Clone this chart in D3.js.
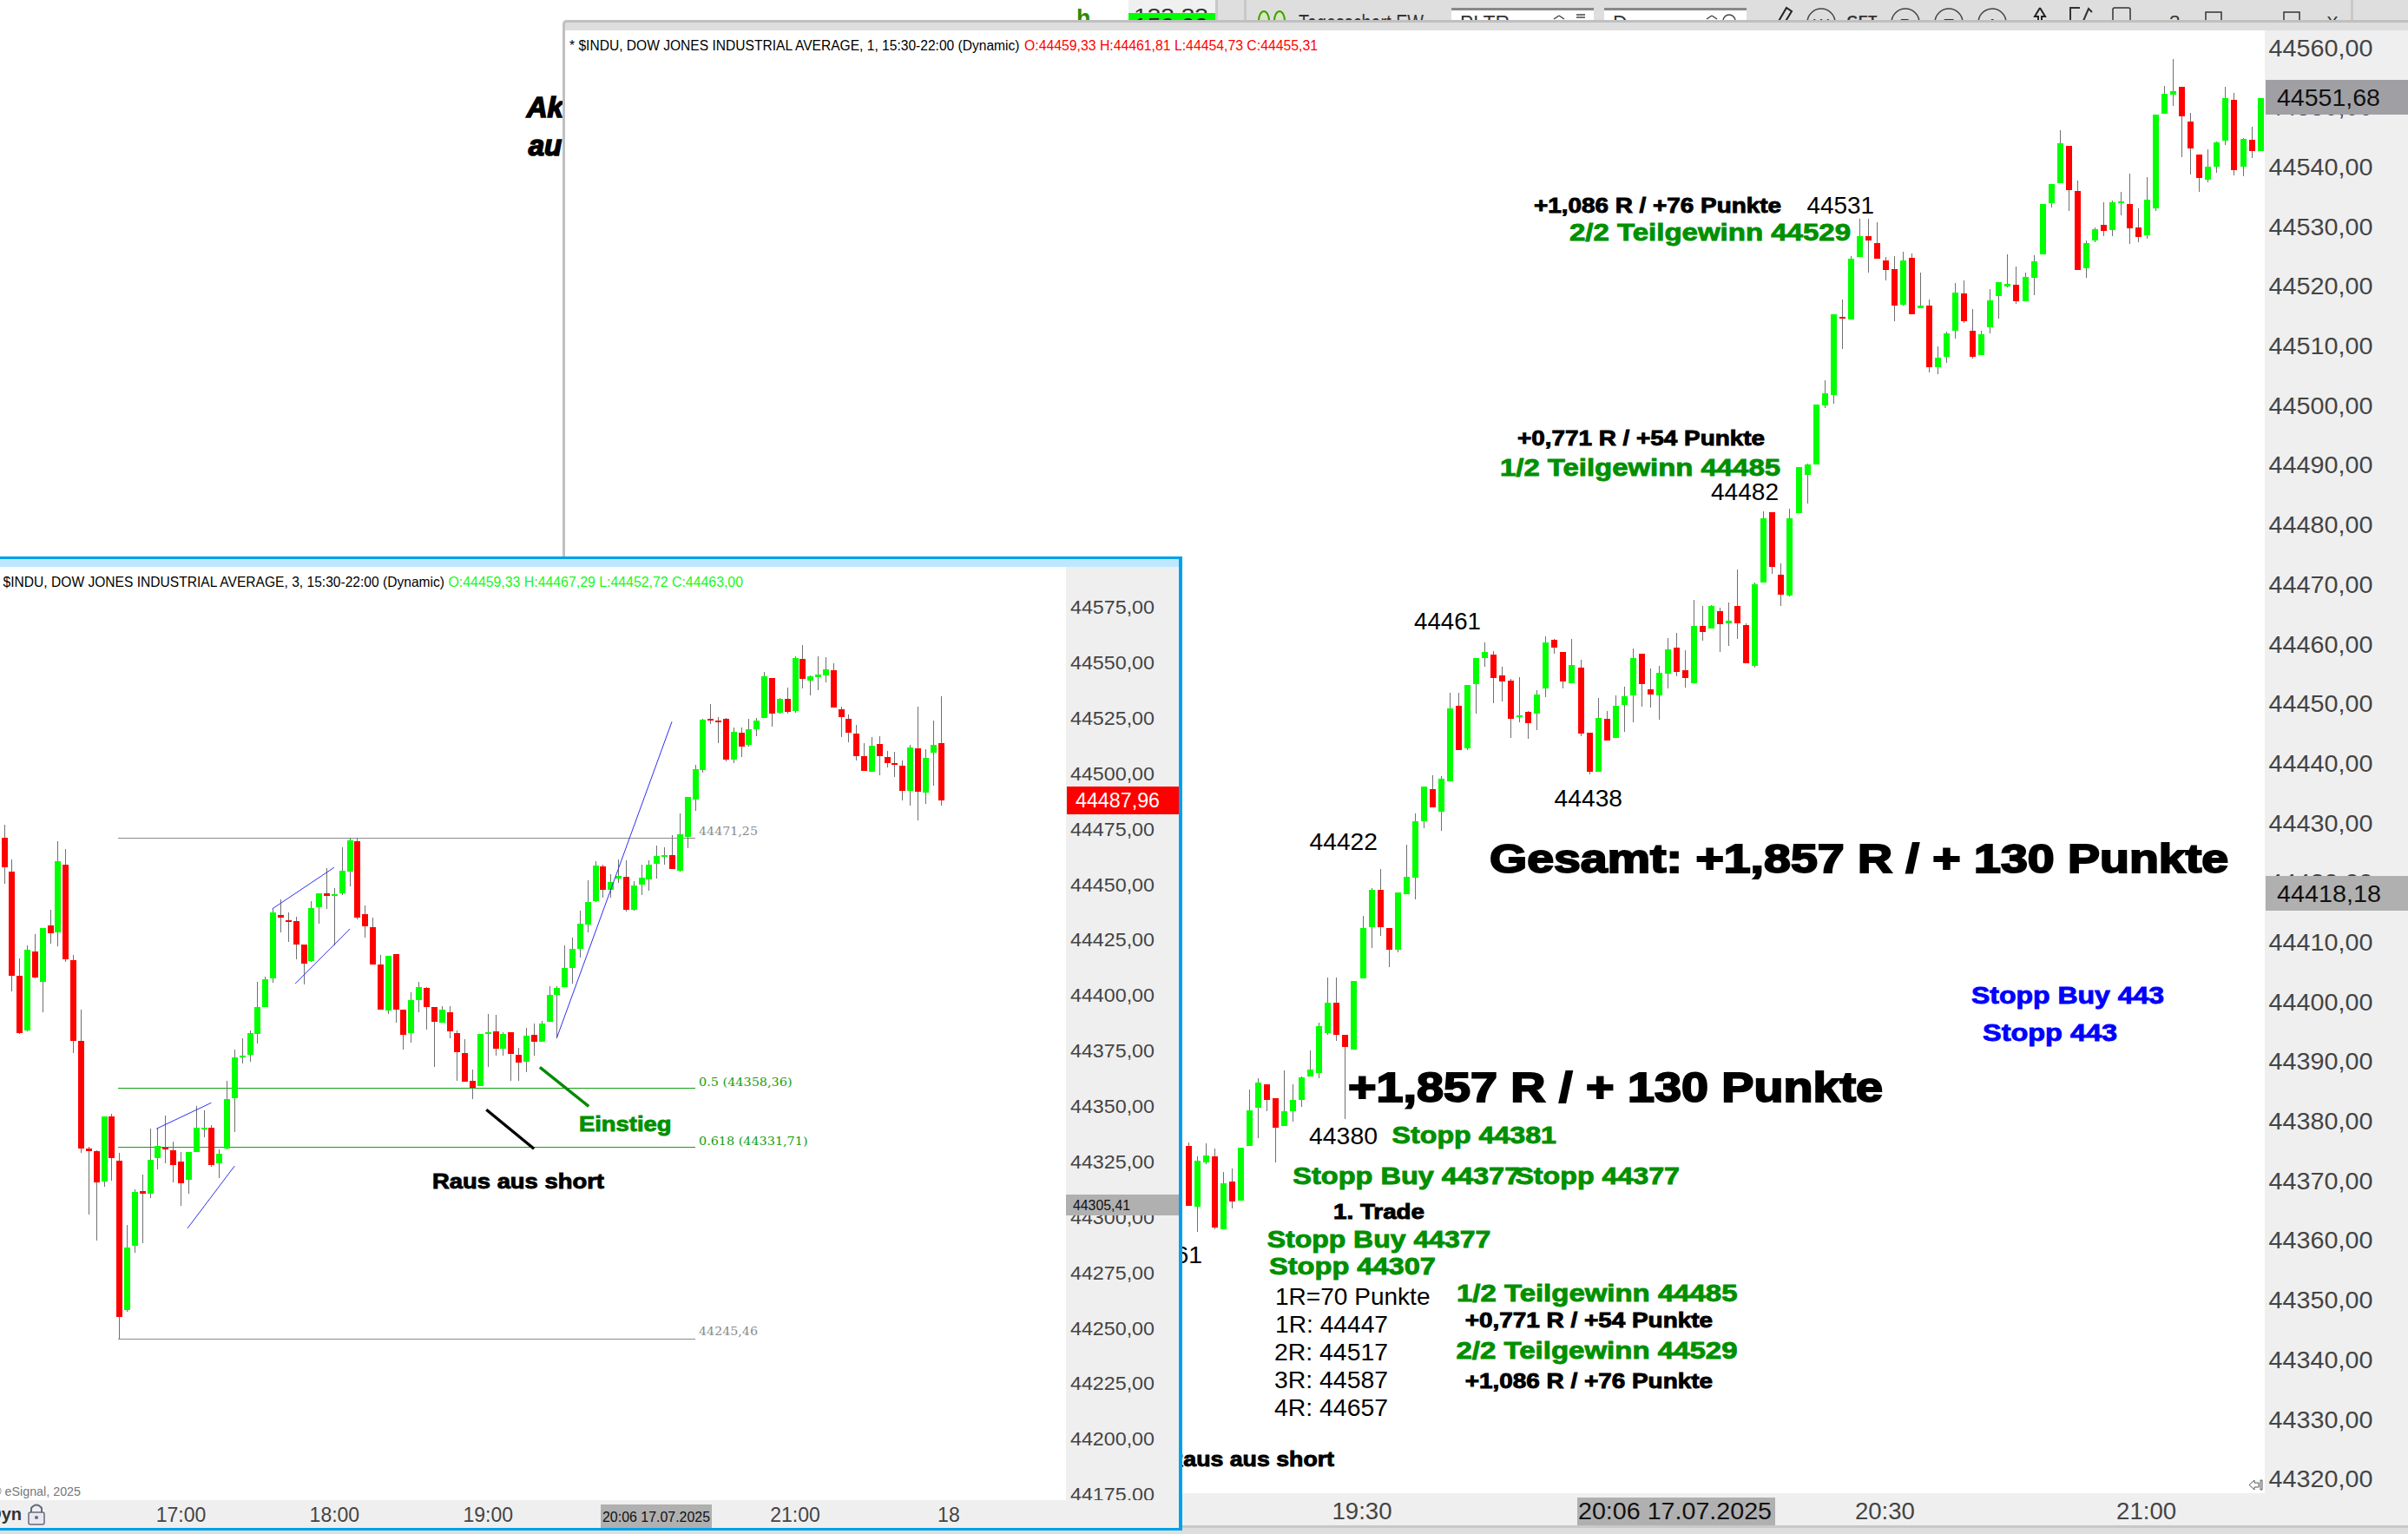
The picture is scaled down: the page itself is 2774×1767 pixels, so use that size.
<!DOCTYPE html>
<html><head><meta charset="utf-8">
<style>html,body{margin:0;padding:0;background:#fff;overflow:hidden}svg{display:block}</style>
<script src="https://cdn.jsdelivr.net/npm/d3@7/dist/d3.min.js"></script>
</head><body><div id="c"></div>
<script>
// ---------- data: times are minutes of the day, prices are index points ----------
const mainFirstBarMinute = 1150; // 19:10, 1-minute bars
const mainOHLC = [
[44375.9,44376.5,44365.9,44365.9],[44365.7,44374.2,44361.5,44373.4],[44373.1,44376.4,44372.9,44374.3],[44374.2,44375.5,44361.9,44362.2],[44361.9,44371.6,44361.9,44369.6],[44369.9,44372.2,44365.5,44366.6],[44366.7,44375.6,44366.7,44375.6],[44375.9,44385.4,44375.9,44381.9],[44382.3,44387.2,44377.2,44386.6],[44386.2,44386.2,44381.7,44383.7],
[44383.9,44383.9,44373.1,44379.0],[44379.3,44388.6,44379.3,44381.7],[44381.7,44386.2,44380.0,44383.6],[44383.7,44387.6,44382.4,44387.4],[44387.5,44391.9,44387.5,44388.7],[44388.2,44396.6,44387.2,44396.0],[44394.8,44404.1,44394.5,44400.0],[44400.0,44404.2,44393.5,44394.5],[44394.5,44394.5,44380.4,44392.5],[44392.1,44403.6,44392.1,44403.6],
[44404.0,44414.5,44404.0,44412.4],[44412.6,44419.1,44409.1,44418.9],[44418.9,44422.4,44411.1,44412.6],[44412.4,44412.4,44405.9,44408.8],[44408.8,44418.4,44408.4,44418.4],[44418.2,44426.4,44418.2,44421.0],[44420.9,44431.7,44417.3,44430.3],[44430.3,44436.2,44429.2,44436.2],[44435.8,44438.1,44432.7,44432.7],[44432.0,44437.9,44428.7,44437.5],
[44437.1,44451.9,44437.1,44449.3],[44449.7,44451.9,44442.3,44442.3],[44442.6,44453.2,44442.3,44453.2],[44453.4,44457.8,44448.4,44457.8],[44457.7,44460.4,44456.3,44458.7],[44458.3,44458.9,44450.1,44454.4],[44454.8,44456.3,44450.4,44453.8],[44453.9,44454.2,44444.4,44447.6],[44447.9,44454.5,44447.0,44448.1],[44448.7,44448.8,44444.2,44446.8],
[44448.4,44452.4,44445.7,44451.6],[44452.6,44461.3,44451.2,44460.4],[44460.8,44461.0,44458.5,44459.5],[44458.7,44458.7,44452.6,44453.8],[44453.5,44461.0,44453.5,44456.5],[44456.1,44457.5,44444.7,44445.0],[44445.2,44445.2,44438.2,44438.6],[44438.6,44451.0,44438.6,44447.7],[44447.6,44448.8,44443.9,44443.9],[44444.4,44451.4,44444.4,44449.7],
[44449.9,44452.9,44445.4,44451.3],[44451.5,44459.4,44447.0,44457.7],[44458.4,44458.4,44449.6,44453.4],[44452.5,44456.0,44449.4,44451.6],[44451.5,44456.4,44447.4,44455.2],[44455.1,44461.1,44452.6,44459.2],[44459.5,44462.0,44454.7,44455.4],[44455.7,44459.1,44452.8,44454.4],[44453.5,44467.5,44453.5,44463.1],[44463.1,44466.5,44460.6,44462.1],
[44462.7,44466.6,44462.7,44466.5],[44465.6,44466.2,44458.7,44463.4],[44463.5,44467.1,44459.8,44464.0],[44466.5,44472.6,44460.9,44463.5],[44463.2,44463.5,44456.8,44456.8],[44456.4,44470.4,44456.2,44470.1],[44470.4,44482.3,44470.4,44481.2],[44482.2,44482.2,44471.8,44473.0],[44471.7,44473.6,44466.5,44468.4],[44468.2,44482.7,44468.1,44481.2],
[44482.0,44489.8,44482.0,44489.8],[44488.4,44490.4,44483.7,44490.2],[44490.2,44500.2,44490.2,44500.2],[44500.1,44504.3,44499.6,44502.1],[44501.8,44515.4,44500.4,44515.4],[44514.9,44517.9,44509.5,44514.6],[44514.5,44525.1,44514.5,44524.7],[44525.0,44531.4,44525.0,44528.5],[44528.5,44531.4,44522.3,44527.8],[44527.3,44530.8,44524.7,44524.7],
[44524.4,44525.0,44521.1,44522.8],[44523.0,44525.1,44514.2,44516.8],[44517.0,44525.9,44516.8,44524.4],[44524.9,44525.6,44515.4,44515.4],[44516.4,44522.3,44516.4,44516.8],[44516.8,44517.9,44505.6,44506.5],[44506.5,44510.0,44505.3,44508.1],[44508.3,44512.5,44507.2,44512.2],[44512.6,44520.6,44511.3,44519.0],[44518.9,44521.1,44513.9,44514.2],
[44512.6,44516.2,44507.9,44508.3],[44508.6,44512.6,44508.6,44512.0],[44513.2,44519.6,44512.2,44517.7],[44518.4,44520.8,44514.6,44520.7],[44520.1,44525.4,44519.9,44520.5],[44520.3,44523.4,44517.2,44517.5],[44517.5,44522.4,44517.5,44521.6],[44521.5,44525.3,44518.6,44524.3],[44525.4,44533.9,44525.4,44533.9],[44534.0,44537.2,44533.3,44537.2],
[44537.4,44546.2,44537.4,44544.1],[44543.6,44543.6,44532.7,44536.2],[44536.1,44537.8,44522.8,44522.8],[44523.1,44527.8,44521.5,44527.3],[44527.8,44529.9,44527.4,44529.7],[44530.4,44534.2,44528.5,44529.4],[44529.5,44534.4,44528.5,44534.2],[44534.0,44535.9,44532.0,44534.3],[44533.8,44539.0,44527.2,44529.8],[44529.9,44533.1,44527.5,44528.3],
[44528.6,44538.4,44528.1,44534.6],[44533.1,44548.9,44532.7,44548.9],[44549.0,44553.6,44549.0,44552.4],[44552.2,44558.2,44550.3,44552.8],[44553.5,44553.5,44541.7,44548.6],[44547.7,44549.1,44538.8,44543.2],[44542.2,44542.2,44535.9,44538.3],[44537.9,44543.1,44537.5,44540.2],[44540.2,44544.3,44539.1,44544.2],[44544.5,44553.5,44543.8,44551.6],
[44551.3,44552.5,44538.7,44539.5],[44540.1,44545.0,44538.6,44544.8],[44544.6,44546.8,44541.6,44542.8],[44542.8,44551.7,44542.8,44551.68]
];
const insetFirstBarMinute = 951; // 15:51, 3-minute bars
const insetOHLC = [
[44471.1,44476.8,44450.5,44457.9],[44455.9,44461.3,44401.9,44408.9],[44408.9,44416.8,44382.6,44383.1],[44384.2,44422.6,44383.7,44420.6],[44419.9,44427.5,44407.6,44408.0],[44406.2,44430.5,44392.3,44430.5],[44431.6,44438.6,44423.5,44428.0],[44428.5,44469.6,44422.2,44460.6],[44459.0,44466.0,44415.2,44416.3],[44415.9,44418.1,44374.1,44379.5],
[44379.5,44393.6,44328.9,44330.9],[44330.9,44331.8,44301.1,44329.8],[44329.8,44330.0,44289.4,44315.7],[44316.1,44345.5,44313.6,44345.5],[44345.5,44346.7,44316.6,44326.7],[44325.5,44328.9,44245.46,44255.0],[44258.2,44296.6,44257.5,44286.2],[44287.1,44312.7,44284.2,44311.4],[44311.9,44319.3,44288.3,44310.5],[44310.5,44339.9,44308.7,44325.8],
[44326.7,44340.4,44321.5,44332.1],[44331.4,44345.8,44324.2,44330.5],[44330.3,44334.1,44315.7,44323.5],[44325.1,44329.6,44305.3,44315.2],[44316.8,44329.6,44310.5,44329.4],[44329.4,44350.3,44329.4,44340.4],[44339.5,44348.2,44335.9,44340.4],[44340.4,44341.5,44322.6,44323.5],[44324.2,44330.5,44317.5,44328.7],[44330.9,44361.7,44330.5,44353.2],
[44353.6,44375.4,44338.4,44372.1],[44372.1,44380.8,44369.4,44373.0],[44373.2,44384.4,44370.0,44383.1],[44382.6,44406.2,44378.4,44394.8],[44394.8,44408.5,44394.8,44407.3],[44407.8,44439.0,44405.8,44437.4],[44436.3,44443.3,44428.5,44435.2],[44433.8,44437.4,44424.2,44433.2],[44433.6,44435.6,44416.3,44422.8],[44422.8,44422.8,44405.1,44414.3],
[44415.4,44442.6,44415.0,44439.5],[44439.7,44446.0,44432.3,44446.0],[44446.0,44457.2,44439.0,44444.9],[44444.9,44448.5,44422.6,44445.8],[44446.0,44466.9,44445.1,44456.3],[44455.9,44471.25,44449.1,44470.0],[44469.6,44471.25,44434.3,44435.0],[44436.5,44440.6,44426.0,44431.1],[44430.7,44435.0,44413.9,44413.9],[44413.9,44418.1,44393.6,44393.6],
[44393.2,44417.9,44391.8,44417.9],[44418.6,44418.6,44387.8,44393.6],[44393.6,44393.6,44375.7,44382.2],[44383.1,44401.5,44378.8,44397.9],[44397.9,44406.2,44392.5,44403.7],[44403.3,44403.7,44384.6,44394.8],[44394.8,44394.8,44367.8,44388.0],[44387.6,44395.2,44387.6,44393.6],[44392.5,44395.0,44380.8,44383.7],[44383.1,44384.4,44361.5,44374.3],
[44374.1,44380.4,44361.1,44361.1],[44361.5,44366.7,44353.4,44358.4],[44359.3,44382.6,44359.3,44382.6],[44382.6,44391.6,44367.8,44383.5],[44383.7,44391.2,44373.0,44375.9],[44375.9,44383.5,44373.0,44382.6],[44383.5,44383.5,44361.5,44373.6],[44373.2,44376.3,44361.5,44369.8],[44370.0,44385.5,44365.5,44381.7],[44382.2,44387.3,44372.7,44379.0],
[44379.0,44388.7,44379.0,44387.3],[44388.0,44404.0,44388.0,44400.1],[44400.1,44404.2,44380.8,44403.3],[44403.7,44422.4,44403.7,44412.3],[44412.3,44426.0,44405.5,44421.0],[44421.0,44438.1,44417.2,44432.5],[44432.0,44451.8,44428.5,44442.2],[44442.6,44460.6,44442.2,44458.6],[44458.1,44459.0,44444.2,44447.5],[44447.6,44454.6,44444.1,44451.2],
[44452.8,44461.4,44450.8,44453.9],[44453.5,44460.9,44437.8,44438.7],[44438.7,44451.5,44438.4,44449.4],[44449.9,44459.1,44445.2,44453.0],[44452.4,44460.9,44447.2,44458.9],[44459.3,44467.6,44452.6,44462.9],[44462.5,44466.7,44458.9,44463.2],[44463.2,44472.4,44456.9,44456.9],[44456.4,44482.0,44456.0,44472.6],[44471.5,44489.4,44466.5,44489.4],
[44488.3,44504.0,44483.4,44502.0],[44501.6,44524.9,44500.4,44524.3],[44524.7,44531.4,44522.5,44524.0],[44524.0,44525.4,44513.7,44523.1],[44524.7,44525.2,44505.4,44506.3],[44506.3,44520.7,44504.7,44518.9],[44518.4,44520.7,44507.4,44512.1],[44513.0,44524.9,44512.1,44520.0],[44520.2,44525.2,44516.9,44524.0],[44525.2,44545.8,44525.2,44543.8],
[44543.1,44543.1,44521.3,44527.0],[44527.4,44534.1,44527.0,44533.7],[44533.7,44538.9,44527.0,44527.9],[44528.3,44552.8,44527.6,44552.1],[44551.7,44558.0,44538.4,44542.7],[44542.0,44544.3,44535.3,44543.8],[44543.6,44553.0,44537.7,44544.5],[44544.3,44552.6,44541.1,44547.0],[44546.7,44549.9,44529.9,44529.9],[44529.0,44530.3,44516.4,44525.6],
[44524.9,44526.7,44514.2,44518.4],[44518.0,44521.8,44505.8,44507.9],[44507.9,44513.7,44501.1,44501.1],[44500.9,44516.4,44500.7,44512.6],[44513.3,44516.9,44499.3,44507.9],[44507.4,44510.3,44502.9,44504.7],[44504.7,44509.7,44498.4,44504.0],[44503.6,44506.1,44487.9,44492.1],[44492.1,44512.8,44485.6,44511.9],[44511.5,44530.1,44478.9,44491.7],
[44491.5,44511.0,44486.3,44507.2],[44509.4,44524.0,44494.6,44513.0],[44513.7,44534.8,44485.6,44487.96]
];
const mainPriceTicks = [44320,44330,44340,44350,44360,44370,44380,44390,44400,44410,44420,44430,44440,44450,44460,44470,44480,44490,44500,44510,44520,44530,44540,44550,44560];
const insetPriceTicks = [44175,44200,44225,44250,44275,44300,44325,44350,44375,44400,44425,44450,44475,44500,44525,44550,44575];
const mainTimeTicks = [1170,1200,1230,1260];
const mainTimeLabels = ["19:30","20:00","20:30","21:00"];
const insetTimeTicks = [1020,1080,1140,1200,1260,1320];
const insetTimeLabels = ["17:00","18:00","19:00","20:00","21:00","18"];
const insetLevels = [44471.25,44358.36,44331.71,44245.46];
const insetLevelLabels = ["44471,25","0.5 (44358,36)","0.618 (44331,71)","44245,46"];
const insetTrendLines = [[1010.6,44339.9,1032.0,44351.6],[1022.7,44295.0,1041.1,44323.1],[1055.8,44439.0,1080,44457.7],[1064.8,44405.3,1086.2,44430.0],[1167,44380.8,1212,44523.4]];
const insetPointers = [[1160.4,44367.6,1179.5,44350.0],[1139.5,44348.5,1158.1,44330.9]];
const mainLastPrice = 44551.68, mainCrossPrice = 44418.18, insetLastPrice = 44487.96, insetCrossPrice = 44305.41;

// ---------- layout ----------
const W=2774,H=1767, SANS='"Liberation Sans",Arial,sans-serif', GREEN='#009000', UP='#00ff00', DOWN='#ff0000', AX='#444444';
const svg=d3.select('#c').append('svg').attr('width',W).attr('height',H).attr('viewBox',`0 0 ${W} ${H}`);
const xMain=d3.scaleLinear().domain([1150,1273]).range([1368.75,2603.6]);
const yMain=d3.scaleLinear().domain([44560,44320]).range([55.5,1704.1]);
const xInset=d3.scaleLinear().domain([1020,1320]).range([208,1092.4]);
const yInset=d3.scaleLinear().domain([44471.25,44245.46]).range([964.6,1541.5]);
const fmt=d=>d3.format('.2f')(d).replace('.',',');

function rect(g,x,y,w,h,fill){return g.append('rect').attr('x',x).attr('y',y).attr('width',w).attr('height',h).attr('fill',fill).attr('shape-rendering','crispEdges');}
function txt(g,s,x,y,size,o={}){
  const t=g.append('text').attr('x',x).attr('y',y).attr('font-family',o.font||SANS).attr('font-size',size)
    .attr('font-weight',o.bold?'bold':'normal').attr('fill',o.fill||'#000').text(s);
  if(o.italic)t.attr('font-style','italic');
  if(o.w)t.attr('textLength',o.w).attr('lengthAdjust','spacingAndGlyphs');
  if(o.stroke)t.attr('stroke',o.fill||'#000').attr('stroke-width',o.stroke);
  if(o.anchor)t.attr('text-anchor',o.anchor);
  return t;
}
function candles(g,rows,first,step,x,y){
  const sel=g.selectAll('g.c').data(rows).join('g').attr('class','c').attr('shape-rendering','crispEdges');
  sel.append('line').attr('x1',(d,i)=>Math.round(x(first+i*step))+.5).attr('x2',(d,i)=>Math.round(x(first+i*step))+.5)
    .attr('y1',d=>y(d[1])).attr('y2',d=>y(d[2])).attr('stroke','#707070').attr('stroke-width',1);
  sel.append('rect').attr('x',(d,i)=>Math.round(x(first+i*step))-3).attr('width',7)
    .attr('y',d=>y(Math.max(d[0],d[3]))).attr('height',d=>Math.max(2,Math.abs(y(d[0])-y(d[3]))))
    .attr('fill',d=>d[3]>=d[0]?UP:DOWN);
}
function axisStyle(g,size,len){
  g.select('.domain').remove();
  g.selectAll('.tick line').remove();
  g.selectAll('text').attr('font-family',SANS).attr('font-size',size).attr('fill',AX);
  if(len)g.selectAll('text').attr('textLength',len).attr('lengthAdjust','spacingAndGlyphs');
}

// ---------- page behind the windows ----------
const back=svg.append('g');
txt(back,'Ak',606.7,135,33,{bold:true,italic:true,stroke:1.6});
txt(back,'au',608.7,179.3,33,{bold:true,italic:true,stroke:1.6});
txt(back,'h',1240,30,27,{bold:true,fill:'#2e8b00'});
rect(back,1300,0,100,24,'#f0f0f0');
txt(back,'133,33',1306,27,23,{fill:'#333',w:86});
rect(back,1300,15,100,9,'#00ff00');
txt(back,'150,00',1306,38,23,{fill:'#222',w:86});
rect(back,1400,0,1374,24,'#dedede');
rect(back,1400,0,3,24,'#c8c8c8');rect(back,1433,0,3,24,'#c8c8c8');rect(back,2708,0,3,24,'#c8c8c8');
[1456,1474].forEach(cx=>back.append('ellipse').attr('cx',cx).attr('cy',24).attr('rx',6).attr('ry',11).attr('fill','#d8e8c0').attr('stroke','#3fa000').attr('stroke-width',2));
txt(back,'Tagesschart EW',1496,35,25,{fill:'#333',w:144});
rect(back,1672,9,164,15,'#fff');rect(back,1672,9,164,3,'#888');
rect(back,1848,9,164,15,'#fff');rect(back,1848,9,164,3,'#888');
txt(back,'PLTR',1682,35,23,{fill:'#333'});txt(back,'D',1858,35,23,{fill:'#333'});
back.append('path').attr('d','M1790 22 L1796 18 M1802 22 L1796 18 M1966 22 L1972 18 M1978 22 L1972 18 M1816 17 L1826 17 M1816 20 L1826 20').attr('stroke','#444').attr('stroke-width',1.5);
back.append('circle').attr('cx',1992).attr('cy',24).attr('r',7).attr('fill','none').attr('stroke','#444').attr('stroke-width',1.5);
[[2098,'W'],[2195,'R'],[2245,'T'],[2295,'A']].forEach(a=>{
  back.append('circle').attr('cx',a[0]).attr('cy',26).attr('r',16).attr('fill','none').attr('stroke','#444').attr('stroke-width',1.5);
  txt(back,a[1],a[0],35,19,{fill:'#333',anchor:'middle'});
});
txt(back,'GET',2145,30,17,{fill:'#333',anchor:'middle',bold:true});
back.append('path').attr('d','M2048 26 L2058 9 L2064 13 L2056 26').attr('fill','none').attr('stroke','#222').attr('stroke-width',2);
back.append('path').attr('d','M2350 9 L2356 19 L2352 19 L2352 24 M2350 9 L2344 19 L2348 19 L2348 24').attr('fill','none').attr('stroke','#222').attr('stroke-width',2);
back.append('path').attr('d','M2385 24 L2385 9 L2396 9 M2400 24 L2406 10 L2410 14').attr('fill','none').attr('stroke','#333').attr('stroke-width',2);
back.append('path').attr('d','M2434 24 L2434 11 Q2434 9 2436 9 L2452 9 Q2454 9 2454 11 L2454 24').attr('fill','none').attr('stroke','#333').attr('stroke-width',1.5);
txt(back,'?',2505,32,21,{fill:'#333',anchor:'middle'});
[2550,2640].forEach(x=>{back.append('rect').attr('x',x-9).attr('y',14).attr('width',18).attr('height',16).attr('fill','none').attr('stroke','#333').attr('stroke-width',1.5);});
txt(back,'X',2687,33,20,{fill:'#333',anchor:'middle'});

// ---------- main window ----------
const win=svg.append('g');
rect(win,651,35,W-651,H-35,'#fff');
rect(win,651,26,W-651,9,'#dedede');
win.append('path').attr('d',`M649.5 ${H} L649.5 28 Q649.5 24.5 653 24.5 L${W} 24.5`).attr('fill','none').attr('stroke','#c0c0c0').attr('stroke-width',3);
rect(win,2609,35,W-2609,1685,'#efefef');
rect(win,651,1720,W-651,37,'#efefef');
rect(win,651,1757,W-651,3,'#c8c8c8');
rect(win,651,1760,W-651,7,'#dedede');
txt(win,'* $INDU, DOW JONES INDUSTRIAL AVERAGE, 1, 15:30-22:00 (Dynamic)',656,58,16,{w:518.5});
txt(win,'O:44459,33 H:44461,81 L:44454,73 C:44455,31',1180,58,16,{fill:'#ff0000',w:338});

const mainAxis=win.append('g').attr('transform','translate(2613.5,0)')
  .call(d3.axisRight(yMain).tickValues(mainPriceTicks).tickFormat(fmt).tickSize(0).tickPadding(0));
axisStyle(mainAxis,27,120);
const mainX=win.append('g').attr('transform','translate(-1,1750)')
  .call(d3.axisBottom(xMain).tickValues(mainTimeTicks).tickFormat((d,i)=>mainTimeLabels[i]).tickSize(0).tickPadding(0));
axisStyle(mainX,27,69);
mainX.selectAll('text').attr('dy',0).attr('y',0);

candles(win.append('g'),mainOHLC,mainFirstBarMinute,1,xMain,yMain);

// last price and crosshair flags, main window
rect(win,2610,92,164,40,'#a0a0a4');
txt(win,fmt(mainLastPrice),2623,yMain(mainLastPrice)+9.5,27,{w:119,fill:'#111'});
rect(win,2610,1009,164,40,'#b0b0b0');
txt(win,fmt(mainCrossPrice),2623,yMain(mainCrossPrice)+9.5,27,{w:120,fill:'#111'});
rect(win,1817,1725,228,32,'#b0b0b0');
txt(win,'20:06 17.07.2025',1818,1750,27,{w:223,fill:'#111'});
win.append('path').attr('d','M2591 1710.5 L2597 1705 L2597 1708 L2602 1708 L2602 1713 L2597 1713 L2597 1716 Z M2604 1705 L2604 1716 L2606 1716 L2606 1705 Z')
  .attr('fill','#fff').attr('stroke','#555').attr('stroke-width',1);

// main window notes
const bold=(s,x,y,size,w,fill,st)=>txt(win,s,x,y,size,{bold:true,fill,w,stroke:st===undefined?.9:st});
const reg=(s,x,y,size,w)=>txt(win,s,x,y,size,{w});
reg('44361',1306,1455,27,79);reg('44380',1508,1318,27,79);reg('44422',1508.5,978.6,27,78.5);
reg('44461',1629,725,27,77);reg('44438',1790.6,929,27,78.4);reg('44482',1971,575.6,27,78);reg('44531',2081.4,246,27,77.6);
bold('+1,086 R / +76 Punkte',1767,244.5,24,285);
bold('2/2 Teilgewinn 44529',1808,276.5,28,324,GREEN);
bold('+0,771 R / +54 Punkte',1748,512.6,24,285);
bold('1/2 Teilgewinn 44485',1728,547.5,28,323,GREEN);
bold('Gesamt: +1,857 R / + 130 Punkte',1716,1004.5,46,851,'#000',2);
bold('Stopp Buy 443',2271,1155.5,28,222,'#0000ff');
bold('Stopp 443',2284,1199,28,155,'#0000ff');
bold('+1,857 R / + 130 Punkte',1553,1268.6,48,616,'#000',2);
bold('Stopp 44381',1603.6,1316.7,28,189.4,GREEN);
bold('Stopp Buy 44377',1489.3,1364,28,262,GREEN);
bold('Stopp 44377',1745.4,1364,28,189.6,GREEN);
bold('1. Trade',1536,1404,23,105);
bold('Stopp Buy 44377',1459.7,1436.5,28,257.6,GREEN);
bold('Stopp 44307',1462,1468,28,192,GREEN);
reg('1R=70 Punkte',1469,1503,28,178.5);
reg('1R: 44447',1469,1535,28,130);
reg('2R: 44517',1468,1566.7,28,131);
reg('3R: 44587',1468,1598.7,28,131);
reg('4R: 44657',1468,1630.7,28,131);
bold('1/2 Teilgewinn 44485',1678,1498.7,28,323.5,GREEN);
bold('+0,771 R / +54 Punkte',1687.8,1528.7,24,285.2);
bold('2/2 Teilgewinn 44529',1677.5,1565,28,324,GREEN);
bold('+1,086 R / +76 Punkte',1687.8,1599.3,24,285.2);
bold('Raus aus short',1344,1688.5,24,193);

// ---------- inset window ----------
const ins=svg.append('g');
rect(ins,0,653,1228,1075,'#fff');
rect(ins,0,644,1358,9,'#bde8ff');
rect(ins,1228,653,130,1075,'#efefef');
txt(ins,'$INDU, DOW JONES INDUSTRIAL AVERAGE, 3, 15:30-22:00 (Dynamic)',3.6,676,16.5,{w:508.4});
txt(ins,'O:44459,33 H:44467,29 L:44452,72 C:44463,00',516.5,676,16.5,{fill:'#19f719',w:339.5});

const insAxis=ins.append('g').attr('transform','translate(1233,0)')
  .call(d3.axisRight(yInset).tickValues(insetPriceTicks).tickFormat(fmt).tickSize(0).tickPadding(0));
axisStyle(insAxis,22.5,97);

// level lines and labels
ins.selectAll('line.lv').data(insetLevels).join('line').attr('class','lv')
  .attr('x1',136).attr('x2',800.6).attr('y1',d=>Math.round(yInset(d))+.5).attr('y2',d=>Math.round(yInset(d))+.5)
  .attr('stroke',(d,i)=>i==1||i==2?'#12a012':'#8a8a8a').attr('stroke-width',1).attr('shape-rendering','crispEdges');
const lvBase=[962,1250.5,1318.5,1538], lvLen=[68,107.6,125.5,68];
insetLevelLabels.forEach((s,i)=>txt(ins,s,805,lvBase[i],13,{font:'"DejaVu Serif",serif',fill:i==1||i==2?'#12a012':'#8a8a8a',w:lvLen[i]}));

candles(ins.append('g'),insetOHLC,insetFirstBarMinute,3,xInset,yInset);

ins.selectAll('line.tr').data(insetTrendLines).join('line').attr('class','tr')
  .attr('x1',d=>xInset(d[0])).attr('y1',d=>yInset(d[1])).attr('x2',d=>xInset(d[2])).attr('y2',d=>yInset(d[3]))
  .attr('stroke','#3030f0').attr('stroke-width',1);
ins.selectAll('line.pt').data(insetPointers).join('line').attr('class','pt')
  .attr('x1',d=>xInset(d[0])).attr('y1',d=>yInset(d[1])).attr('x2',d=>xInset(d[2])).attr('y2',d=>yInset(d[3]))
  .attr('stroke',(d,i)=>i==0?'#068a06':'#000').attr('stroke-width',3.4);

txt(ins,'Einstieg',667,1302.8,24,{bold:true,fill:GREEN,w:106.5,stroke:.9});
txt(ins,'Raus aus short',498,1369,24,{bold:true,w:198,stroke:.9});
txt(ins,'© eSignal, 2025',-9,1722.7,15,{fill:'#777',w:102});

// flags and time band
rect(ins,1229,906,130,32,'#ff0000');
txt(ins,fmt(insetLastPrice),1239,yInset(insetLastPrice)+8,23,{fill:'#fff',w:97});
rect(ins,1228,1376,130,24,'#b0b0b0');
txt(ins,fmt(insetCrossPrice),1236,yInset(insetCrossPrice)+6,16,{fill:'#111',w:66});
rect(ins,0,1728,1358,32,'#efefef');
const insX=ins.append('g').attr('transform','translate(0,1753)')
  .call(d3.axisBottom(xInset).tickValues(insetTimeTicks).tickFormat((d,i)=>insetTimeLabels[i]).tickSize(0).tickPadding(0));
axisStyle(insX,23);
insX.selectAll('text').attr('dy',0).attr('y',0);
rect(ins,692,1733,128,27,'#b0b0b0');
txt(ins,'20:06 17.07.2025',694,1752.7,16,{fill:'#111',w:124});
txt(ins,'Dyn',25,1751,20,{bold:true,fill:'#333',anchor:'end'});
ins.append('rect').attr('x',33).attr('y',1742).attr('width',18).attr('height',14).attr('rx',2).attr('fill','#e8e8ee').attr('stroke','#666a80').attr('stroke-width',1.5);
ins.append('path').attr('d','M36 1742 L36 1737 Q42 1730 48 1737 L48 1742').attr('fill','none').attr('stroke','#666a80').attr('stroke-width',2);
ins.append('circle').attr('cx',42).attr('cy',1748).attr('r',2).attr('fill','#666a80');

// window frame
rect(ins,0,641,1361,3,'#00a0ec');
rect(ins,1358,641,4,1122,'#00a0ec');
rect(ins,0,1760,1362,3,'#00a0ec');
rect(ins,0,1763,1362,4,'#dedede');
</script></body></html>
